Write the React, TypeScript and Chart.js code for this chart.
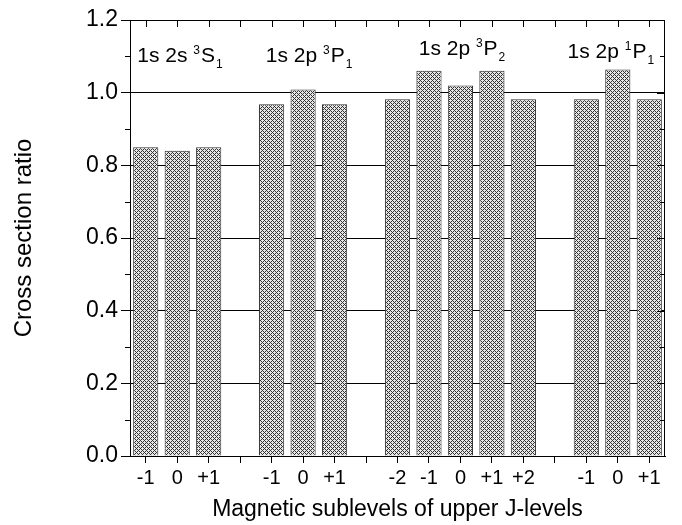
import React, { useEffect, useRef } from "react";
import { Chart, registerables } from "chart.js";

Chart.register(...registerables);

const categories = ["-1", "0", "+1", "", "-1", "0", "+1", "", "-2", "-1", "0", "+1", "+2", "", "-1", "0", "+1"];
const ratios = [0.85, 0.84, 0.85, null, 0.968, 1.009, 0.968, null, 0.982, 1.06, 1.02, 1.06, 0.982, null, 0.982, 1.064, 0.982];
const yTicks = [0, 0.2, 0.4, 0.6, 0.8, 1.0, 1.2];

// group label parts: [main prefix, superscript, term letter, subscript]
const groupPrefix = ["1s 2s ", "1s 2p ", "1s 2p ", "1s 2p "];
const groupSup = ["3", "3", "3", "1"];
const groupTerm = ["S", "P", "P", "P"];
const groupSub = ["1", "1", "2", "1"];
const groupAnchorIndex = [1.09, 5.19, 10.05, 14.78];
const groupAnchorValue = [1.085, 1.085, 1.104, 1.095];

const FONT = "'Liberation Sans', Arial, sans-serif";

function makePattern(ctx: CanvasRenderingContext2D) {
  const c = document.createElement("canvas");
  c.width = 4;
  c.height = 4;
  const g = c.getContext("2d")!;
  g.fillStyle = "#e8e8e8";
  g.fillRect(0, 0, 4, 4);
  g.fillStyle = "#333333";
  const pts = [[0, 0], [1, 1], [2, 2], [3, 3], [1, 3], [3, 1]];
  for (const [x, y] of pts) g.fillRect(x, y, 1, 1);
  return ctx.createPattern(c, "repeat")!;
}

const framePlugin = {
  id: "frameAndLabels",
  afterDraw(chart: any) {
    const { ctx, chartArea, scales } = chart;
    const x = scales.x;
    const y = scales.y;
    ctx.save();
    ctx.strokeStyle = "#000";
    ctx.lineWidth = 1;
    ctx.strokeRect(chartArea.left + 0.5, chartArea.top + 0.5, chartArea.right - chartArea.left - 1, chartArea.bottom - chartArea.top);
    ctx.beginPath();
    for (let i = 0; i < categories.length; i++) {
      const px = Math.round(x.getPixelForValue(i)) + 0.5;
      ctx.moveTo(px, chartArea.top);
      ctx.lineTo(px, chartArea.top + 7);
    }
    for (let k = 0; k <= 12; k++) {
      const v = k / 10;
      const py = Math.round(y.getPixelForValue(v)) + 0.5;
      const major = k % 2 === 0;
      ctx.moveTo(chartArea.right, py);
      ctx.lineTo(chartArea.right - (major ? 8 : 5), py);
      if (!major) {
        ctx.moveTo(chartArea.left, py);
        ctx.lineTo(chartArea.left - 5, py);
      }
    }
    ctx.stroke();

    ctx.fillStyle = "#000";
    ctx.textBaseline = "alphabetic";
    ctx.textAlign = "left";
    const mainFont = `21px ${FONT}`;
    const smallFont = `12px ${FONT}`;
    for (let g = 0; g < groupPrefix.length; g++) {
      ctx.font = mainFont;
      const w1 = ctx.measureText(groupPrefix[g]).width;
      const w3 = ctx.measureText(groupTerm[g]).width;
      ctx.font = smallFont;
      const w2 = ctx.measureText(groupSup[g]).width;
      const w4 = ctx.measureText(groupSub[g]).width;
      const total = w1 + w2 + 1 + w3 + 1 + w4;
      let cx = x.getPixelForValue(groupAnchorIndex[g]) - total / 2;
      const by = y.getPixelForValue(groupAnchorValue[g]);
      ctx.font = mainFont;
      ctx.fillText(groupPrefix[g], cx, by);
      cx += w1;
      ctx.font = smallFont;
      ctx.fillText(groupSup[g], cx, by - 8);
      cx += w2 + 1;
      ctx.font = mainFont;
      ctx.fillText(groupTerm[g], cx, by);
      cx += w3 + 1;
      ctx.font = smallFont;
      ctx.fillText(groupSub[g], cx, by + 6);
    }
    ctx.restore();
  },
};

export default function App() {
  const ref = useRef<HTMLCanvasElement>(null);
  useEffect(() => {
    document.body.style.margin = "0";
    const canvas = ref.current!;
    const ctx = canvas.getContext("2d")!;
    const pattern = makePattern(ctx);
    const chart = new Chart(canvas, {
      type: "bar",
      data: {
        labels: categories,
        datasets: [
          {
            data: ratios as any,
            backgroundColor: pattern as any,
            borderColor: "#333",
            borderWidth: 1,
            barPercentage: 0.8,
            categoryPercentage: 1,
          },
        ],
      },
      options: {
        animation: false,
        responsive: false,
        maintainAspectRatio: false,
        layout: { padding: { left: 0, right: 17, top: 20, bottom: 0 } },
        plugins: { legend: { display: false }, tooltip: { enabled: false } },
        scales: {
          x: {
            offset: true,
            grid: { offset: false, drawOnChartArea: false, color: "#000", tickLength: 7, tickWidth: 1 },
            border: { display: true, color: "#000" },
            ticks: { color: "#000", font: { family: FONT, size: 20 }, padding: 3, autoSkip: false, maxRotation: 0 },
            title: {
              display: true,
              text: "Magnetic sublevels of upper J-levels",
              color: "#000",
              font: { family: FONT, size: 23 },
              padding: { top: 0, bottom: 2 },
            },
            afterFit: (s: any) => {
              s.height = 69;
            },
          },
          y: {
            min: 0,
            max: 1.2,
            z: 1,
            afterBuildTicks: (s: any) => {
              s.ticks = yTicks.map((v) => ({ value: v }));
            },
            grid: { color: "#000", lineWidth: 1, tickLength: 9 },
            border: { display: true, color: "#000" },
            ticks: {
              color: "#000",
              font: { family: FONT, size: 23 },
              padding: 3,
              callback: (v: any) => Number(v).toFixed(1),
            },
            title: {
              display: true,
              text: "Cross section ratio",
              color: "#000",
              font: { family: FONT, size: 24 },
              padding: { top: 10, bottom: 4 },
            },
            afterFit: (s: any) => {
              s.width = 130;
            },
          },
        },
      },
      plugins: [framePlugin],
    });
    return () => chart.destroy();
  }, []);
  return (
    <div style={{ position: "fixed", left: 0, top: 0, width: 682, height: 525 }}>
      <canvas ref={ref} width={682} height={525} />
    </div>
  );
}
